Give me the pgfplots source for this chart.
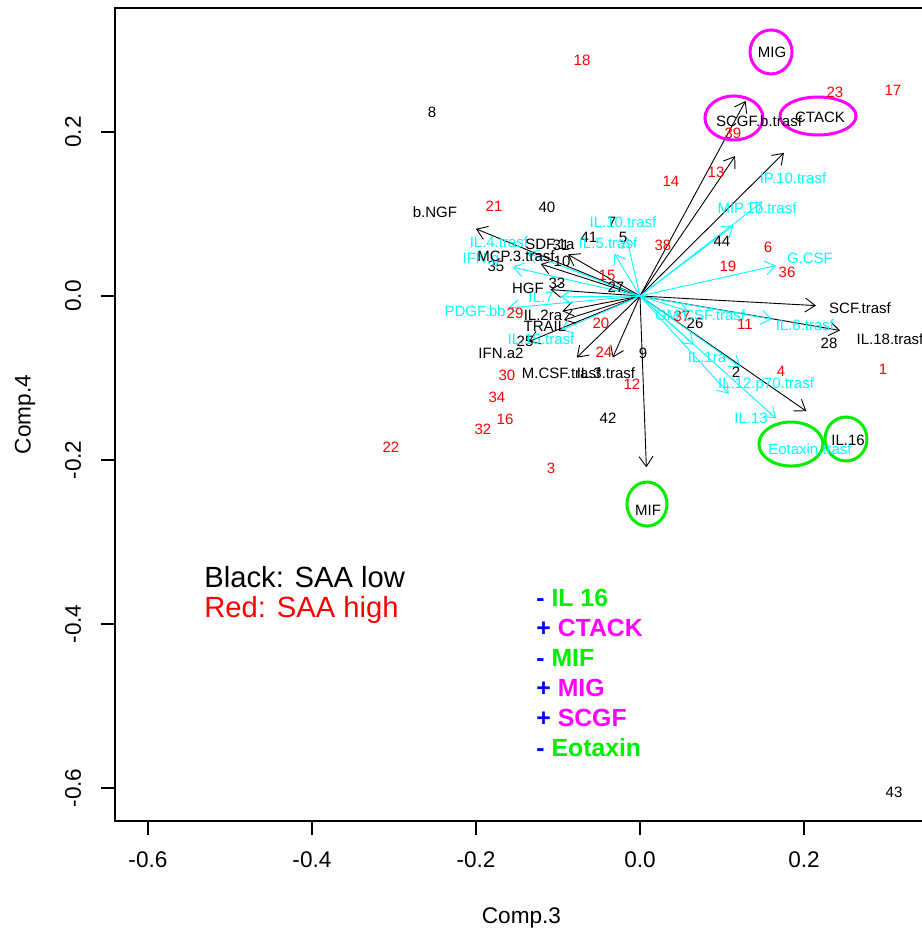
\documentclass[border=0pt]{standalone}
\usepackage{pgfplots}
\pgfplotsset{compat=1.18}
\usepackage{pgfplotstable}
\usepackage{fontspec}
\setmainfont{Liberation Sans}
\usetikzlibrary{arrows.meta}
\definecolor{rcyan}{RGB}{0,255,255}
\definecolor{rred}{RGB}{255,0,0}
\definecolor{rgreen}{RGB}{0,238,0}
\definecolor{rmag}{RGB}{255,0,255}
\definecolor{rblue}{RGB}{0,0,255}
\newcommand\lblfont{\fontsize{7.5}{9}\selectfont}
\newcommand\tickfont{\fontsize{11.3}{13}\selectfont}

% variables drawn in black: label position (lx,ly), arrow tip (ax,ay)
\pgfplotstableread{
name lx ly ax ay
b.NGF -0.2500 0.1024 -0.2000 0.0819
SDF.1a -0.1098 0.0634 -0.0878 0.0507
MCP.3.trasf -0.1512 0.0488 -0.1210 0.0390
HGF -0.1366 0.0098 -0.1093 0.0078
IL.2ra -0.1183 -0.0232 -0.0946 -0.0185
TRAIL -0.1159 -0.0366 -0.0927 -0.0293
IFN.a2 -0.1695 -0.0695 -0.1356 -0.0556
M.CSF.trasf -0.0963 -0.0939 -0.0771 -0.0751
IL.3.trasf -0.0415 -0.0939 -0.0332 -0.0751
SCF.trasf 0.2683 -0.0146 0.2146 -0.0117
IL.18.trasf 0.3049 -0.0524 0.2439 -0.0420
IL.16 0.2537 -0.1756 0.2029 -0.1405
MIF 0.0098 -0.2610 0.0078 -0.2088
MIG 0.1610 0.2976 0.1288 0.2380
SCGF.b.trasf 0.1451 0.2134 0.1161 0.1707
CTACK 0.2195 0.2183 0.1756 0.1746
}\blackvars

% variables drawn in cyan
\pgfplotstableread{
name lx ly ax ay
IL.10.trasf -0.0207 0.0902 -0.0166 0.0722
IL.4.trasf -0.1720 0.0659 -0.1376 0.0527
IL.5.trasf -0.0390 0.0646 -0.0312 0.0517
IFN.g -0.1939 0.0439 -0.1551 0.0351
IL.7 -0.1207 -0.0012 -0.0966 -0.0010
PDGF.bb -0.2012 -0.0183 -0.1610 -0.0146
IL.15.trasf -0.1207 -0.0524 -0.0966 -0.0420
IP.10.trasf 0.1866 0.1439 0.1493 0.1151
MIP.1b.trasf 0.1427 0.1073 0.1141 0.0859
G.CSF 0.2073 0.0463 0.1659 0.0371
GM.CSF.trasf 0.0732 -0.0232 0.0585 -0.0185
IL.6.trasf 0.2012 -0.0354 0.1610 -0.0283
IL.1ra 0.0817 -0.0744 0.0654 -0.0595
IL.12.p70.trasf 0.1537 -0.1085 0.1229 -0.0868
IL.13 0.1354 -0.1488 0.1083 -0.1190
Eotaxin.trasf 0.2073 -0.1866 0.1659 -0.1493
}\cyanvars

% observations, SAA low (black)
\pgfplotstableread{
x y name
-0.2537 0.2244 8
-0.1134 0.1085 40
-0.0622 0.0720 41
-0.0207 0.0720 5
0.1000 0.0671 44
-0.0341 0.0902 7
-0.0963 0.0622 31
-0.0951 0.0427 10
-0.1756 0.0366 35
-0.1012 0.0159 33
-0.0293 0.0110 27
-0.1402 -0.0549 25
0.0037 -0.0695 9
0.0671 -0.0329 26
0.2305 -0.0573 28
0.1171 -0.0927 2
-0.0390 -0.1488 42
0.3098 -0.6049 43
}\lowobs

% observations, SAA high (red)
\pgfplotstableread{
x y name
-0.0707 0.2878 18
0.2378 0.2488 23
0.3085 0.2512 17
0.1134 0.1988 39
0.0378 0.1402 14
0.0927 0.1512 13
-0.1780 0.1098 21
0.0280 0.0622 38
0.1561 0.0598 6
0.1073 0.0366 19
0.1793 0.0293 36
-0.0402 0.0256 15
-0.1524 -0.0207 29
-0.0476 -0.0329 20
0.1280 -0.0341 11
0.0512 -0.0244 37
-0.0439 -0.0683 24
0.1720 -0.0915 4
0.2963 -0.0890 1
-0.0098 -0.1073 12
-0.1622 -0.0963 30
-0.1744 -0.1232 34
-0.1646 -0.1500 16
-0.1915 -0.1622 32
-0.3037 -0.1841 22
-0.1085 -0.2098 3
}\highobs

\begin{document}
\begin{tikzpicture}
\begin{axis}[
  at={(0,0)}, anchor=south west,
  scale only axis, width=406.5pt, height=406.5pt,
  xmin=-0.6402, xmax=0.3512, ymin=-0.6402, ymax=0.3512,
  clip=false,
  xtick={-0.6,-0.4,-0.2,0,0.2}, ytick={-0.6,-0.4,-0.2,0,0.2},
  xticklabels={,,,,,}, yticklabels={,,,,,},
  xtick pos=left, ytick pos=left,
  tick align=outside, major tick length=7pt,
  tick style={black, line width=0.6pt},
  axis line style={line width=0.7pt},
  nodes near coords style={anchor=center, inner sep=0pt, font=\lblfont},
]
% arrows
\addplot[black, line width=0.45pt, -{Straight Barb[length=5pt,width=7pt]},
  quiver={u=\thisrow{ax}, v=\thisrow{ay}}] table[x expr=0, y expr=0] {\blackvars};
\addplot[rcyan, line width=0.45pt, -{Straight Barb[length=5pt,width=7pt]},
  quiver={u=\thisrow{ax}, v=\thisrow{ay}}] table[x expr=0, y expr=0] {\cyanvars};
% observation numbers
\addplot[only marks, mark=none, nodes near coords, point meta=explicit symbolic,
  nodes near coords style={text=black}] table[x=x, y=y, meta=name] {\lowobs};
\addplot[only marks, mark=none, nodes near coords, point meta=explicit symbolic,
  nodes near coords style={text=rred}] table[x=x, y=y, meta=name] {\highobs};
% variable labels
\addplot[only marks, mark=none, nodes near coords, point meta=explicit symbolic,
  nodes near coords style={text=rcyan}] table[x=lx, y=ly, meta=name] {\cyanvars};
\addplot[only marks, mark=none, nodes near coords, point meta=explicit symbolic,
  nodes near coords style={text=black}] table[x=lx, y=ly, meta=name] {\blackvars};

% highlighted variables
\draw[rmag, line width=1.5pt] (axis cs:0.1598,0.2976) ellipse [x radius=10.5pt, y radius=11pt];
\draw[rmag, line width=1.5pt] (axis cs:0.1146,0.2171) ellipse [x radius=14.5pt, y radius=11pt];
\draw[rmag, line width=1.5pt] (axis cs:0.2171,0.2195) ellipse [x radius=19pt, y radius=9.5pt];
\draw[rgreen, line width=1.5pt] (axis cs:0.1841,-0.1805) ellipse [x radius=16pt, y radius=11pt];
\draw[rgreen, line width=1.5pt] (axis cs:0.2512,-0.1744) ellipse [x radius=10.5pt, y radius=11pt];
\draw[rgreen, line width=1.5pt] (axis cs:0.0085,-0.2537) ellipse [x radius=10pt, y radius=11pt];

% legend texts
\node[anchor=west, inner sep=0pt, font=\fontsize{14.6}{17}\selectfont] at (axis cs:-0.5317,-0.3427) {Black: SAA low};
\node[anchor=west, inner sep=0pt, text=rred, font=\fontsize{14.6}{17}\selectfont] at (axis cs:-0.5317,-0.3829) {Red: SAA high};
\begin{scope}[every node/.style={anchor=west, inner sep=0pt, font=\bfseries\fontsize{12.4}{15}\selectfont}]
\node at (axis cs:-0.1268,-0.3683) {\textcolor{rblue}{-} \textcolor{rgreen}{IL 16}};
\node at (axis cs:-0.1268,-0.4049) {\textcolor{rblue}{+} \textcolor{rmag}{CTACK}};
\node at (axis cs:-0.1268,-0.4415) {\textcolor{rblue}{-} \textcolor{rgreen}{MIF}};
\node at (axis cs:-0.1268,-0.4780) {\textcolor{rblue}{+} \textcolor{rmag}{MIG}};
\node at (axis cs:-0.1268,-0.5146) {\textcolor{rblue}{+} \textcolor{rmag}{SCGF}};
\node at (axis cs:-0.1268,-0.5512) {\textcolor{rblue}{-} \textcolor{rgreen}{Eotaxin}};
\end{scope}

% tick labels and axis titles
\begin{scope}[every node/.style={font=\tickfont, inner sep=0pt}]
\node at ([yshift=-19.5pt]axis cs:-0.6,-0.6402) {-0.6};
\node at ([yshift=-19.5pt]axis cs:-0.4,-0.6402) {-0.4};
\node at ([yshift=-19.5pt]axis cs:-0.2,-0.6402) {-0.2};
\node at ([yshift=-19.5pt]axis cs:0,-0.6402) {0.0};
\node at ([yshift=-19.5pt]axis cs:0.2,-0.6402) {0.2};
\node[rotate=90] at ([xshift=-21pt]axis cs:-0.6402,-0.6) {-0.6};
\node[rotate=90] at ([xshift=-21pt]axis cs:-0.6402,-0.4) {-0.4};
\node[rotate=90] at ([xshift=-21pt]axis cs:-0.6402,-0.2) {-0.2};
\node[rotate=90] at ([xshift=-21pt]axis cs:-0.6402,0) {0.0};
\node[rotate=90] at ([xshift=-21pt]axis cs:-0.6402,0.2) {0.2};
\node at ([yshift=-48.5pt]axis cs:-0.1445,-0.6402) {Comp.3};
\node[rotate=90] at ([xshift=-45pt]axis cs:-0.6402,-0.1445) {Comp.4};
\end{scope}
\end{axis}
\pgfresetboundingbox
\useasboundingbox (-57.5pt,-56pt) rectangle (403.5pt,410.5pt);
\end{tikzpicture}
\end{document}
